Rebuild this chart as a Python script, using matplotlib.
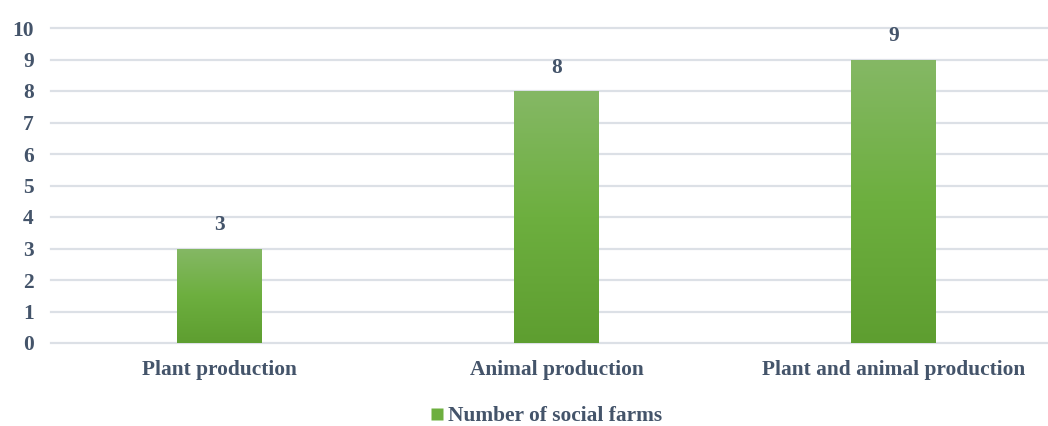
import matplotlib
matplotlib.use("Agg")
import matplotlib.pyplot as plt
import numpy as np
from matplotlib.colors import LinearSegmentedColormap
from matplotlib.patches import Rectangle
from matplotlib.lines import Line2D

categories = ["Plant production", "Animal production", "Plant and animal production"]
values = [3, 8, 9]
series_name = "Number of social farms"
y_ticks = list(range(0, 11))

text_color = "#44546A"
grid_color = "#DCE0E6"
top_green = "#85B865"
bottom_green = "#5E9E30"
fs = 15.4

plt.rcParams["font.family"] = ["Liberation Serif", "DejaVu Serif"]
plt.rcParams["font.weight"] = "bold"

fig = plt.figure(figsize=(10.48, 4.26), dpi=100)
ax = fig.add_axes([51 / 1048, 83 / 426, 997 / 1048, (343 - 28) / 426])

for t in y_ticks:
    ax.axhline(t, color=grid_color, lw=1.6, zorder=0, clip_on=False)

cmap = LinearSegmentedColormap.from_list("bar_grad", [bottom_green, "#6DAF3F", top_green])
grad = np.linspace(0, 1, 256).reshape(-1, 1)
width = 0.252
for i, v in enumerate(values):
    rect = Rectangle((i - width / 2, 0), width, v, facecolor="none", edgecolor="none")
    ax.add_patch(rect)
    im = ax.imshow(grad, cmap=cmap, origin="lower", aspect="auto",
                   extent=(i - width / 2, i + width / 2, 0, v), zorder=2)
    im.set_clip_path(rect)
    ax.text(i, v + 0.42, str(v), ha="center", va="bottom", fontsize=fs,
            fontweight="bold", color=text_color)

ax.set_xlim(-0.5, 2.458)
ax.set_ylim(0, 10)
ax.set_xticks(range(len(categories)))
ax.set_xticklabels(categories, fontsize=fs, fontweight="bold", color=text_color)
ax.set_yticks(y_ticks)
ax.set_yticklabels([str(t) for t in y_ticks], fontsize=fs, fontweight="bold", color=text_color)
ax.tick_params(axis="both", length=0)
ax.tick_params(axis="x", pad=12.5)
ax.tick_params(axis="y", pad=12.5)
for s in ax.spines.values():
    s.set_visible(False)

handle = Line2D([], [], marker="s", linestyle="none", markersize=8.5,
                markerfacecolor="#6DAF3F", markeredgecolor="none")
fig.legend([handle], [series_name], loc="center", bbox_to_anchor=(0.5195, 1 - 416 / 426),
           frameon=False, handletextpad=0.0, handlelength=1.0,
           prop={"size": fs, "weight": "bold"}, labelcolor=text_color)

fig.savefig("out.png", dpi=100)
